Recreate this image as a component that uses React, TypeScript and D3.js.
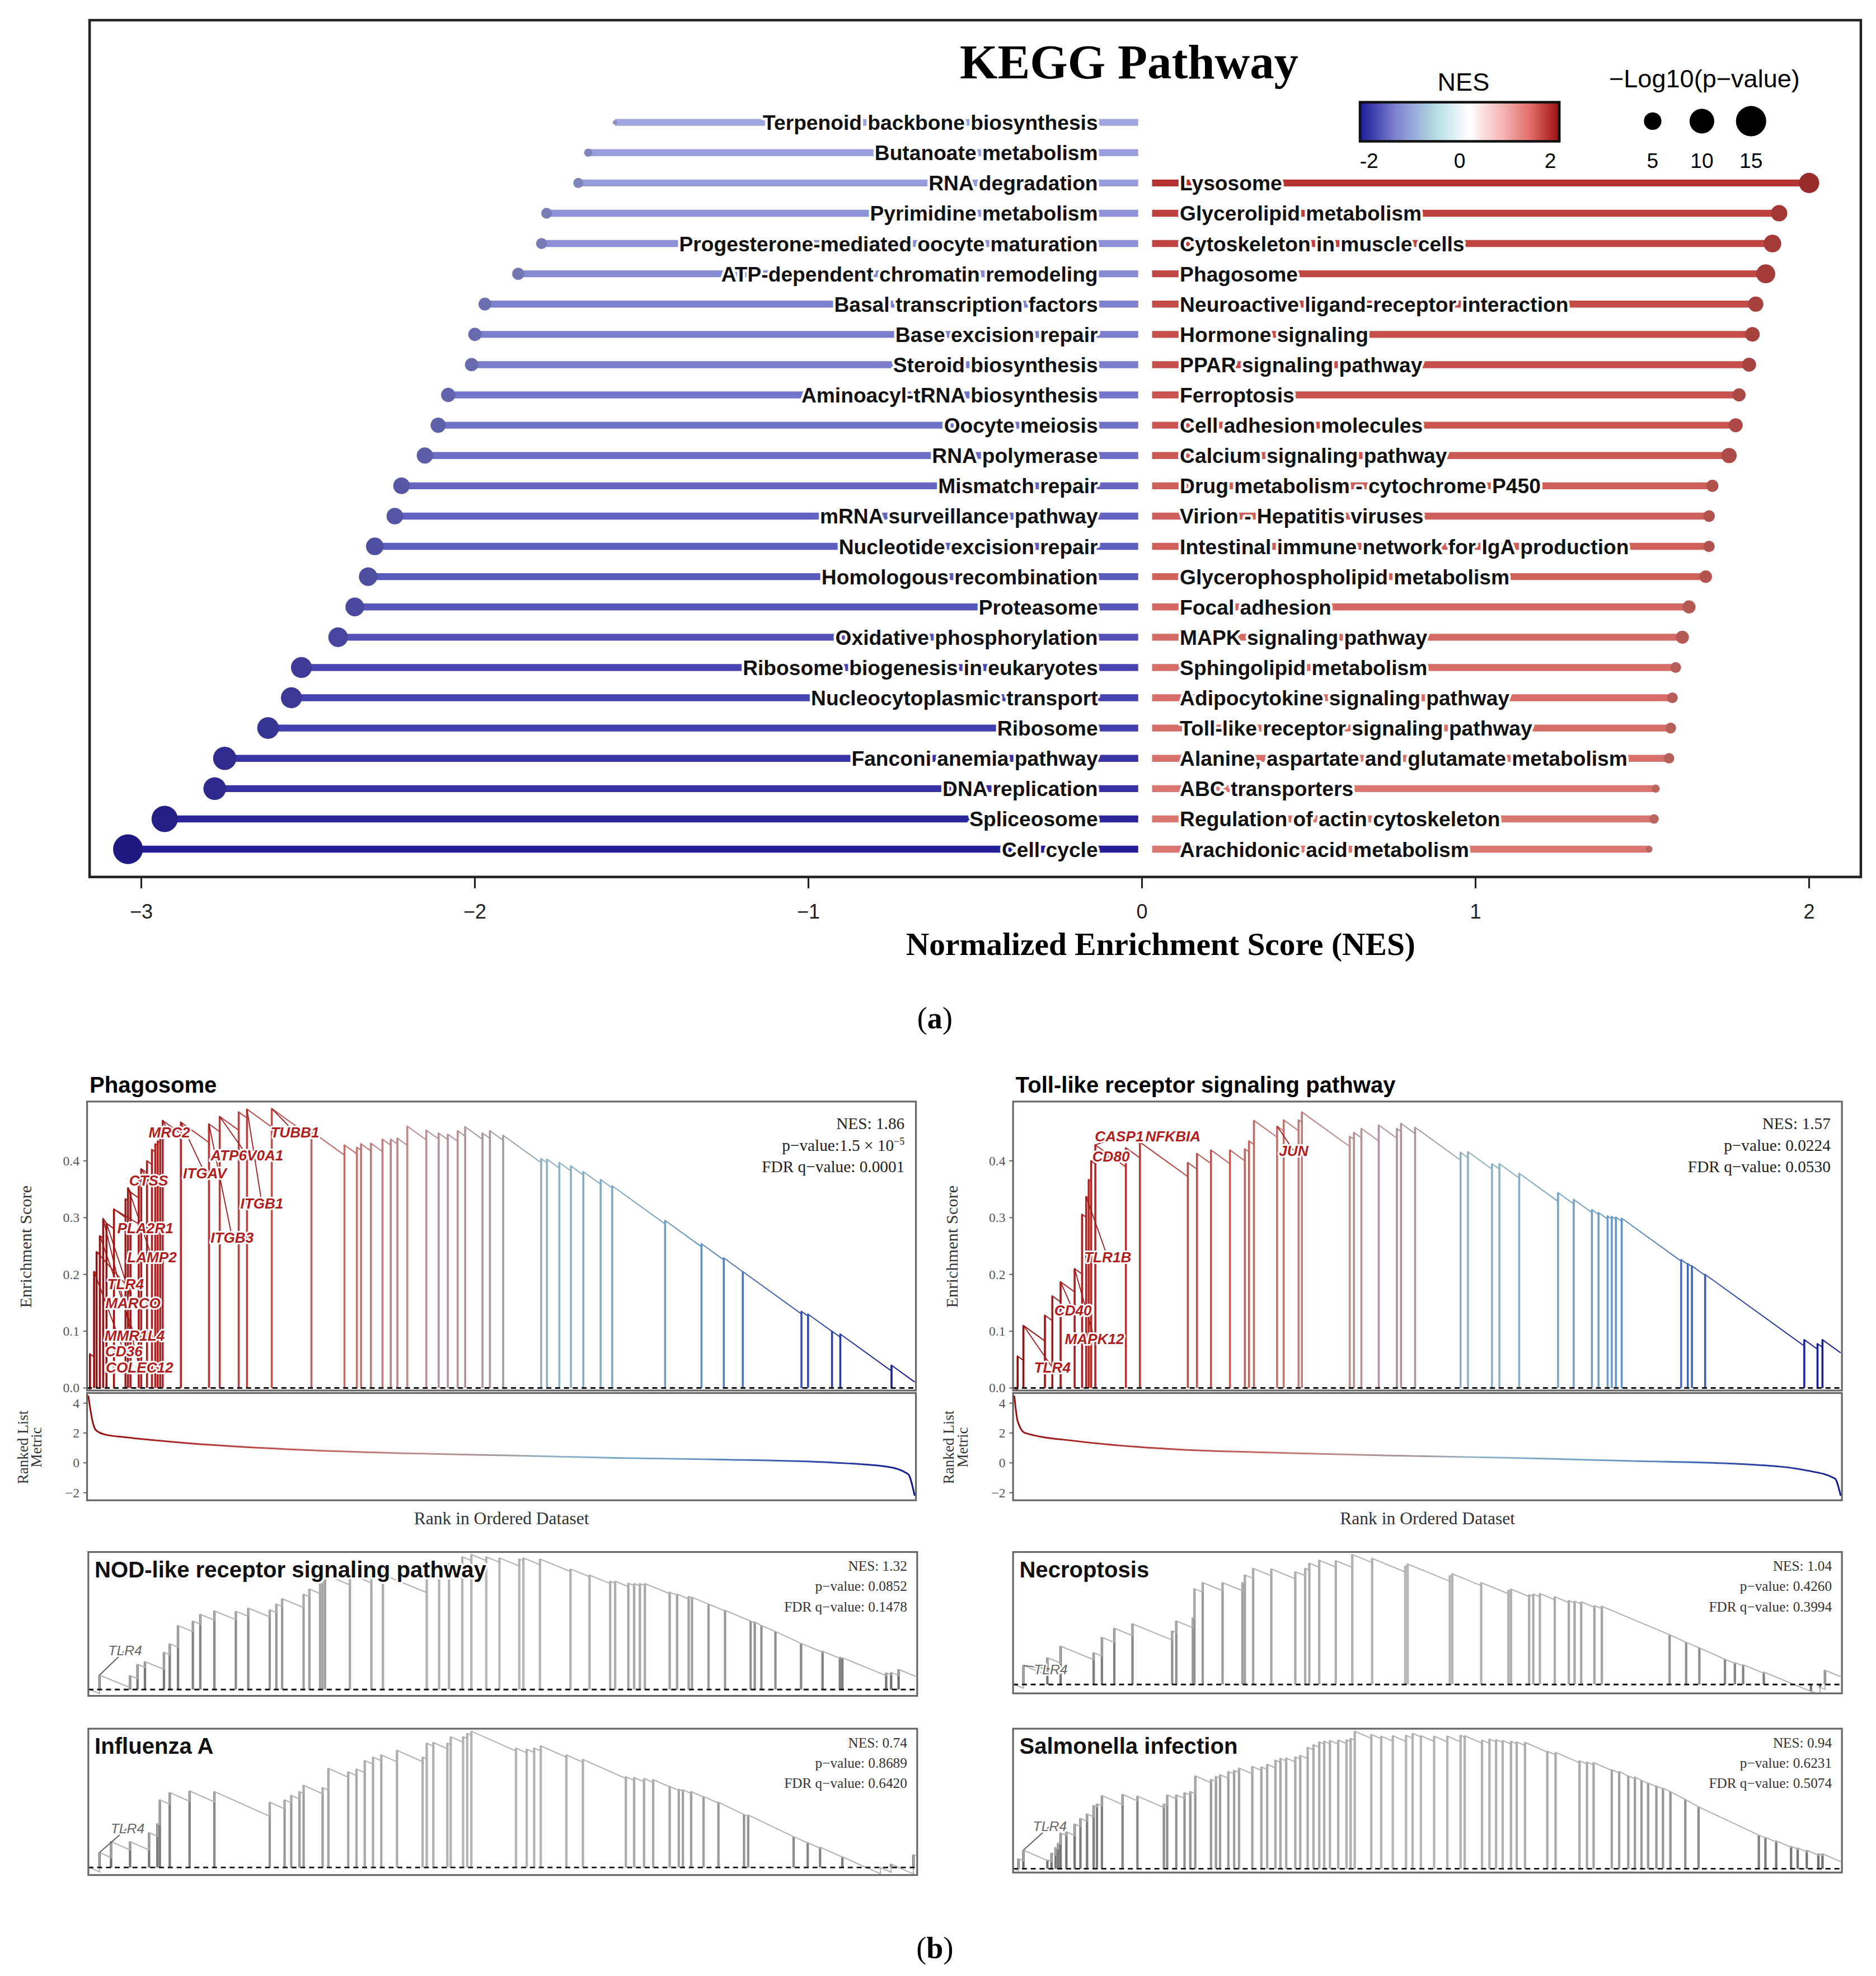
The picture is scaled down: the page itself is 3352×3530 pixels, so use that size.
import React from 'react';
import * as d3 from 'd3';

const VW = 1487;
const VH = 1566;
const SANS = "'Liberation Sans', Arial, sans-serif";
const SERIF = "'Liberation Serif', 'Times New Roman', serif";

// ---------- (a) KEGG pathway lollipop ----------
const downTerms = [
  'Terpenoid backbone biosynthesis', 'Butanoate metabolism', 'RNA degradation', 'Pyrimidine metabolism',
  'Progesterone-mediated oocyte maturation', 'ATP-dependent chromatin remodeling', 'Basal transcription factors',
  'Base excision repair', 'Steroid biosynthesis', 'Aminoacyl-tRNA biosynthesis', 'Oocyte meiosis', 'RNA polymerase',
  'Mismatch repair', 'mRNA surveillance pathway', 'Nucleotide excision repair', 'Homologous recombination',
  'Proteasome', 'Oxidative phosphorylation', 'Ribosome biogenesis in eukaryotes', 'Nucleocytoplasmic transport',
  'Ribosome', 'Fanconi anemia pathway', 'DNA replication', 'Spliceosome', 'Cell cycle',
];
const downNES = [-1.58, -1.66, -1.69, -1.785, -1.8, -1.87, -1.97, -2.0, -2.01, -2.08, -2.11, -2.15, -2.22, -2.24,
  -2.3, -2.32, -2.36, -2.41, -2.52, -2.55, -2.62, -2.75, -2.78, -2.93, -3.04];
const downLogP = [0.3, 1.1, 1.7, 1.9, 2.0, 2.4, 2.7, 2.9, 2.9, 3.3, 3.8, 4.3, 4.5, 4.5, 5.1, 5.6, 5.7, 6.3, 7.2,
  7.2, 7.7, 8.8, 8.4, 11.3, 14.5];

const upTerms = [
  'Lysosome', 'Glycerolipid metabolism', 'Cytoskeleton in muscle cells', 'Phagosome',
  'Neuroactive ligand-receptor interaction', 'Hormone signaling', 'PPAR signaling pathway', 'Ferroptosis',
  'Cell adhesion molecules', 'Calcium signaling pathway', 'Drug metabolism - cytochrome P450',
  'Virion - Hepatitis viruses', 'Intestinal immune network for IgA production', 'Glycerophospholipid metabolism',
  'Focal adhesion', 'MAPK signaling pathway', 'Sphingolipid metabolism', 'Adipocytokine signaling pathway',
  'Toll-like receptor signaling pathway', 'Alanine, aspartate and glutamate metabolism', 'ABC transporters',
  'Regulation of actin cytoskeleton', 'Arachidonic acid metabolism',
];
const upNES = [2.0, 1.91, 1.89, 1.87, 1.84, 1.83, 1.82, 1.79, 1.78, 1.76, 1.71, 1.7, 1.7, 1.69, 1.64, 1.62, 1.6,
  1.59, 1.585, 1.58, 1.54, 1.535, 1.52];
const upLogP = [6.7, 4.4, 5.1, 5.9, 3.8, 3.5, 3.2, 2.8, 3.2, 3.8, 2.4, 2.2, 2.1, 2.6, 2.8, 2.8, 1.9, 1.9, 1.9, 1.8,
  1.1, 1.5, 0.8];

const nesTicks = [-3, -2, -1, 0, 1, 2];
const colorLegendTicks = [-2, 0, 2];
const sizeLegendValues = [5, 10, 15];

// ---------- (b) GSEA running enrichment ----------
// hit positions as fraction of the ranked list, ES at each hit
const phagoHits = [0.002, 0.007, 0.01, 0.014, 0.018, 0.022, 0.031, 0.045, 0.048, 0.051, 0.061, 0.064, 0.071, 0.077,
  0.081, 0.084, 0.087, 0.09, 0.112, 0.146, 0.159, 0.182, 0.192, 0.222, 0.27, 0.31, 0.325, 0.33, 0.342, 0.356, 0.366,
  0.374, 0.386, 0.409, 0.424, 0.435, 0.447, 0.456, 0.477, 0.486, 0.502, 0.548, 0.555, 0.57, 0.584, 0.599, 0.62,
  0.634, 0.698, 0.742, 0.769, 0.792, 0.863, 0.871, 0.9, 0.91, 0.972];
const phagoES = [0.06, 0.205, 0.24, 0.268, 0.298, 0.29, 0.315, 0.333, 0.353, 0.345, 0.371, 0.386, 0.4, 0.42, 0.43,
  0.435, 0.445, 0.471, 0.468, 0.465, 0.478, 0.486, 0.491, 0.492, 0.452, 0.428, 0.424, 0.43, 0.431, 0.438, 0.438,
  0.44, 0.461, 0.454, 0.449, 0.447, 0.453, 0.46, 0.449, 0.453, 0.445, 0.404, 0.403, 0.397, 0.391, 0.381, 0.367,
  0.356, 0.295, 0.254, 0.229, 0.205, 0.135, 0.13, 0.1, 0.095, 0.04];
const phagoMetricPos = [0, 0.005, 0.009, 0.02, 0.048, 0.113, 0.245, 0.376, 0.507, 0.638, 0.769, 0.9, 0.966, 0.992, 1];
const phagoMetric = [4.5, 2.8, 2.2, 1.9, 1.7, 1.35, 0.9, 0.65, 0.5, 0.33, 0.22, 0.02, -0.25, -0.75, -2.2];
const phagoLabels = [
  { gene: 'MRC2', hit: 17, lx: 0.098, ly: 0.45 },
  { gene: 'TUBB1', hit: 23, lx: 0.25, ly: 0.45 },
  { gene: 'ATP6V0A1', hit: 20, lx: 0.192, ly: 0.41 },
  { gene: 'ITGAV', hit: 18, lx: 0.141, ly: 0.378 },
  { gene: 'CTSS', hit: 11, lx: 0.073, ly: 0.365 },
  { gene: 'ITGB1', hit: 22, lx: 0.21, ly: 0.325 },
  { gene: 'PLA2R1', hit: 6, lx: 0.069, ly: 0.282 },
  { gene: 'ITGB3', hit: 19, lx: 0.174, ly: 0.265 },
  { gene: 'LAMP2', hit: 8, lx: 0.077, ly: 0.23 },
  { gene: 'TLR4', hit: 2, lx: 0.045, ly: 0.183 },
  { gene: 'MARCO', hit: 5, lx: 0.054, ly: 0.149 },
  { gene: 'MMR1L4', hit: 3, lx: 0.056, ly: 0.092 },
  { gene: 'CD36', hit: 1, lx: 0.043, ly: 0.065 },
  { gene: 'COLEC12', hit: 4, lx: 0.062, ly: 0.036 },
];

const tollHits = [0.004, 0.011, 0.037, 0.046, 0.056, 0.073, 0.082, 0.087, 0.09, 0.093, 0.098, 0.135, 0.152, 0.21,
  0.221, 0.238, 0.261, 0.279, 0.284, 0.29, 0.318, 0.326, 0.344, 0.348, 0.406, 0.411, 0.42, 0.441, 0.463, 0.468,
  0.485, 0.54, 0.549, 0.578, 0.587, 0.611, 0.658, 0.677, 0.699, 0.707, 0.718, 0.723, 0.728, 0.735, 0.807, 0.815,
  0.82, 0.836, 0.956, 0.972, 0.978];
const tollES = [0.056, 0.11, 0.128, 0.162, 0.187, 0.21, 0.306, 0.337, 0.367, 0.4, 0.428, 0.423, 0.433, 0.397, 0.413,
  0.419, 0.419, 0.421, 0.435, 0.471, 0.461, 0.472, 0.472, 0.486, 0.443, 0.45, 0.457, 0.463, 0.457, 0.466, 0.459,
  0.415, 0.416, 0.395, 0.395, 0.378, 0.344, 0.332, 0.314, 0.309, 0.303, 0.302, 0.301, 0.299, 0.226, 0.219, 0.215,
  0.2, 0.085, 0.078, 0.085];
const tollMetricPos = [0, 0.004, 0.013, 0.076, 0.182, 0.323, 0.464, 0.605, 0.746, 0.887, 0.958, 0.993, 1];
const tollMetric = [4.5, 2.8, 2.0, 1.45, 0.95, 0.67, 0.48, 0.33, 0.13, -0.1, -0.5, -1.05, -2.2];
const tollLabels = [
  { gene: 'CASP1', hit: 10, lx: 0.127, ly: 0.443 },
  { gene: 'NFKBIA', hit: 12, lx: 0.192, ly: 0.443 },
  { gene: 'CD80', hit: 9, lx: 0.117, ly: 0.408 },
  { gene: 'JUN', hit: 20, lx: 0.338, ly: 0.418 },
  { gene: 'TLR1B', hit: 7, lx: 0.113, ly: 0.23 },
  { gene: 'CD40', hit: 4, lx: 0.071, ly: 0.137 },
  { gene: 'MAPK12', hit: 5, lx: 0.097, ly: 0.086 },
  { gene: 'TLR4', hit: 1, lx: 0.046, ly: 0.036 },
];

// small panels: ES as fraction of each panel's maximum
const nodHits = [0.012, 0.049, 0.058, 0.067, 0.09, 0.097, 0.107, 0.125, 0.134, 0.151, 0.177, 0.192, 0.218, 0.226,
  0.233, 0.259, 0.266, 0.279, 0.282, 0.285, 0.315, 0.341, 0.355, 0.408, 0.423, 0.435, 0.451, 0.462, 0.48, 0.496,
  0.52, 0.525, 0.545, 0.582, 0.605, 0.63, 0.636, 0.652, 0.659, 0.666, 0.672, 0.702, 0.711, 0.725, 0.729, 0.749,
  0.769, 0.8, 0.805, 0.813, 0.83, 0.861, 0.887, 0.908, 0.911, 0.964, 0.97, 0.979];
const nodES = [0.107, 0.104, 0.187, 0.207, 0.276, 0.339, 0.474, 0.507, 0.557, 0.583, 0.58, 0.603, 0.59, 0.633, 0.673,
  0.706, 0.744, 0.785, 0.818, 0.851, 0.855, 0.86, 0.851, 0.868, 0.926, 0.934, 0.983, 1.0, 0.983, 0.975, 0.967,
  0.975, 0.967, 0.893, 0.848, 0.802, 0.802, 0.788, 0.785, 0.785, 0.785, 0.722, 0.706, 0.689, 0.683, 0.633, 0.587,
  0.507, 0.501, 0.474, 0.43, 0.342, 0.284, 0.24, 0.236, 0.124, 0.127, 0.149];

const fluHits = [0.012, 0.026, 0.049, 0.072, 0.082, 0.085, 0.097, 0.121, 0.151, 0.218, 0.236, 0.244, 0.254, 0.259,
  0.282, 0.289, 0.313, 0.323, 0.333, 0.343, 0.353, 0.372, 0.403, 0.408, 0.416, 0.433, 0.437, 0.452, 0.457, 0.462,
  0.516, 0.529, 0.538, 0.546, 0.577, 0.597, 0.649, 0.659, 0.671, 0.682, 0.702, 0.713, 0.718, 0.728, 0.743, 0.761,
  0.792, 0.797, 0.852, 0.869, 0.884, 0.911, 0.957, 0.97, 0.997];
const fluES = [0.11, 0.19, 0.19, 0.256, 0.322, 0.496, 0.55, 0.562, 0.557, 0.479, 0.496, 0.529, 0.557, 0.603, 0.587,
  0.727, 0.702, 0.722, 0.785, 0.81, 0.826, 0.86, 0.81, 0.912, 0.917, 0.912, 0.959, 0.959, 0.983, 1.0, 0.876, 0.868,
  0.876, 0.893, 0.826, 0.793, 0.666, 0.661, 0.653, 0.645, 0.595, 0.574, 0.57, 0.557, 0.521, 0.479, 0.388, 0.385,
  0.226, 0.182, 0.149, 0.078, 0.0, 0.025, 0.094];

const necroHits = [0.011, 0.04, 0.056, 0.096, 0.106, 0.121, 0.143, 0.191, 0.196, 0.216, 0.218, 0.228, 0.252, 0.276,
  0.279, 0.289, 0.311, 0.34, 0.352, 0.357, 0.369, 0.389, 0.409, 0.433, 0.473, 0.476, 0.527, 0.53, 0.565, 0.598,
  0.601, 0.623, 0.628, 0.636, 0.654, 0.671, 0.678, 0.686, 0.702, 0.711, 0.793, 0.813, 0.829, 0.86, 0.872, 0.882,
  0.907, 0.964, 0.975, 0.981];
const necroES = [0.147, 0.207, 0.295, 0.245, 0.363, 0.433, 0.467, 0.413, 0.489, 0.514, 0.737, 0.784, 0.784, 0.784,
  0.843, 0.894, 0.889, 0.868, 0.894, 0.933, 0.956, 0.953, 1.0, 0.97, 0.911, 0.927, 0.838, 0.852, 0.784, 0.725,
  0.734, 0.691, 0.696, 0.7, 0.675, 0.646, 0.641, 0.636, 0.607, 0.602, 0.383, 0.325, 0.282, 0.194, 0.169, 0.152,
  0.096, -0.05, -0.022, 0.11];

const salmHits = [0.005, 0.011, 0.04, 0.045, 0.05, 0.053, 0.056, 0.063, 0.073, 0.08, 0.088, 0.096, 0.1, 0.106, 0.131,
  0.149, 0.181, 0.185, 0.196, 0.206, 0.213, 0.219, 0.238, 0.244, 0.249, 0.259, 0.266, 0.272, 0.288, 0.299, 0.306,
  0.316, 0.322, 0.329, 0.34, 0.346, 0.355, 0.362, 0.369, 0.375, 0.382, 0.392, 0.402, 0.407, 0.412, 0.432, 0.444,
  0.458, 0.474, 0.482, 0.492, 0.508, 0.524, 0.54, 0.545, 0.566, 0.575, 0.583, 0.591, 0.601, 0.608, 0.618, 0.645,
  0.655, 0.684, 0.693, 0.701, 0.723, 0.732, 0.743, 0.751, 0.759, 0.767, 0.777, 0.785, 0.794, 0.812, 0.828, 0.901,
  0.909, 0.922, 0.94, 0.948, 0.959, 0.973, 0.978];
const salmES = [0.073, 0.135, 0.065, 0.114, 0.154, 0.187, 0.26, 0.268, 0.325, 0.366, 0.398, 0.46, 0.472, 0.532,
  0.541, 0.528, 0.472, 0.537, 0.537, 0.553, 0.561, 0.675, 0.65, 0.672, 0.683, 0.707, 0.715, 0.732, 0.743, 0.74,
  0.759, 0.789, 0.802, 0.805, 0.813, 0.824, 0.883, 0.902, 0.922, 0.927, 0.932, 0.935, 0.938, 0.948, 1.0, 0.976,
  0.964, 0.967, 0.97, 0.984, 0.967, 0.964, 0.964, 0.97, 0.967, 0.935, 0.943, 0.938, 0.932, 0.927, 0.922, 0.919,
  0.854, 0.846, 0.785, 0.776, 0.772, 0.72, 0.707, 0.675, 0.667, 0.642, 0.623, 0.602, 0.585, 0.561, 0.504, 0.45,
  0.244, 0.228, 0.203, 0.163, 0.151, 0.135, 0.109, 0.109];

const esTicks = [0, 0.1, 0.2, 0.3, 0.4];
const metricTicks = [-2, 0, 2, 4];

// colour ramp along the ranked list (red -> grey -> blue)
const POS_STOPS = [0, 0.1, 0.3, 0.4, 0.48, 0.56, 0.72, 0.84, 1];
const POS_COLORS = ['#960c0c', '#b02828', '#c46a66', '#bc9090', '#a89498', '#90b4c6', '#6a9cc6', '#3c5cb2', '#101590'];

const halo = (w: number): React.CSSProperties => ({
  paintOrder: 'stroke', stroke: '#fff', strokeWidth: w, strokeLinejoin: 'round',
} as React.CSSProperties);

const fmtMinus = (v: number) => (v < 0 ? `\u2212${-v}` : `${v}`);

// running-sum outline: falls between hits, jumps up at each hit
function runningPath(hits: number[], es: number[], slope: number,
  x: d3.ScaleLinear<number, number>, y: d3.ScaleLinear<number, number>) {
  const pts: [number, number][] = [[0, 0]];
  let px = 0;
  let pv = 0;
  hits.forEach((h, i) => {
    const low = Math.min(pv - slope * (h - px), es[i]);
    pts.push([h, low], [h, es[i]]);
    px = h;
    pv = es[i];
  });
  pts.push([1, pv - slope * (1 - px)]);
  return d3.line<[number, number]>().x(d => x(d[0])).y(d => y(d[1]))(pts) || '';
}

function KeggPanel() {
  const x = d3.scaleLinear().domain([-3, 2]).range([112, 1434]);
  const row = d3.scalePoint<number>().domain(d3.range(downTerms.length)).range([97, 673]);
  const r = d3.scaleSqrt().domain([0, 15]).range([0, 12]);
  const nesColor = d3.scaleLinear<string>()
    .domain([-3.05, -2.5, -2.0, -1.55, 1.5, 1.75, 2.0])
    .range(['#221d96', '#4a47b3', '#7a7ecd', '#a2a9df', '#dc7a74', '#cd5a55', '#b53232'])
    .clamp(true);
  const dotColor = (v: number) => d3.color(nesColor(v))!.darker(0.45).formatHex();
  const x0 = x(0);
  const upOffset = downTerms.length - upTerms.length;
  const cbar = d3.scaleLinear().domain([-2.2, 2.2]).range([1078, 1236]);
  const sizeX = d3.scalePoint<number>().domain(sizeLegendValues).range([1310, 1388]);

  return (
    <g>
      <defs>
        <linearGradient id="nesbar" x1="0" x2="1" y1="0" y2="0">
          <stop offset="0" stopColor="#1a1a9a" />
          <stop offset="0.18" stopColor="#7f82cf" />
          <stop offset="0.38" stopColor="#b5dde4" />
          <stop offset="0.55" stopColor="#ffffff" />
          <stop offset="0.72" stopColor="#f4b3b1" />
          <stop offset="0.86" stopColor="#e06a66" />
          <stop offset="1" stopColor="#9c0f0f" />
        </linearGradient>
      </defs>
      <rect x={71} y={16} width={1404} height={679} fill="#fff" stroke="#222" strokeWidth={2} />
      <text x={895} y={62} textAnchor="middle" fontFamily={SERIF} fontWeight="bold" fontSize={38.5}>KEGG Pathway</text>

      {downTerms.map((t, i) => {
        const y = row(i)!;
        return (
          <g key={t}>
            <line x1={x(downNES[i])} x2={x0 - 3} y1={y} y2={y} stroke={nesColor(downNES[i])} strokeWidth={5.5} />
            <circle cx={x(downNES[i])} cy={y} r={r(downLogP[i])} fill={dotColor(downNES[i])} />
            <text x={x0 - 35} y={y + 6} textAnchor="end" fontFamily={SANS} fontWeight="bold" fontSize={16.5}
              fill="#111" style={halo(4)}>{t}</text>
          </g>
        );
      })}
      {upTerms.map((t, i) => {
        const y = row(i + upOffset)!;
        return (
          <g key={t}>
            <line x1={x0 + 8} x2={x(upNES[i])} y1={y} y2={y} stroke={nesColor(upNES[i])} strokeWidth={5.5} />
            <circle cx={x(upNES[i])} cy={y} r={r(upLogP[i])} fill={dotColor(upNES[i])} />
            <text x={x0 + 30} y={y + 6} textAnchor="start" fontFamily={SANS} fontWeight="bold" fontSize={16.5}
              fill="#111" style={halo(4)}>{t}</text>
          </g>
        );
      })}

      {/* x axis */}
      {nesTicks.map(t => (
        <g key={t}>
          <line x1={x(t)} x2={x(t)} y1={695} y2={704} stroke="#222" strokeWidth={1.4} />
          <text x={x(t)} y={728} textAnchor="middle" fontFamily={SANS} fontSize={16} fill="#222">{fmtMinus(t)}</text>
        </g>
      ))}
      <text x={920} y={757} textAnchor="middle" fontFamily={SERIF} fontWeight="bold" fontSize={25.5}>
        Normalized Enrichment Score (NES)
      </text>

      {/* colour legend */}
      <text x={1160} y={72} textAnchor="middle" fontFamily={SANS} fontSize={20}>NES</text>
      <rect x={1078} y={81} width={158} height={31} fill="url(#nesbar)" stroke="#111" strokeWidth={2} />
      {colorLegendTicks.map(t => (
        <text key={t} x={cbar(t)} y={133} textAnchor="middle" fontFamily={SANS} fontSize={16.5}>{t}</text>
      ))}

      {/* size legend */}
      <text x={1351} y={69} textAnchor="middle" fontFamily={SANS} fontSize={20}>{'\u2212Log10(p\u2212value)'}</text>
      {sizeLegendValues.map(v => (
        <g key={v}>
          <circle cx={sizeX(v)} cy={96} r={r(v)} fill="#000" />
          <text x={sizeX(v)} y={133} textAnchor="middle" fontFamily={SANS} fontSize={16.5}>{v}</text>
        </g>
      ))}
    </g>
  );
}

type GeneLabel = { gene: string; hit: number; lx: number; ly: number };

function GseaMain(props: {
  id: string; title: string; x0: number; x1: number; hits: number[]; es: number[]; slope: number;
  metricPos: number[]; metric: number[]; labels: GeneLabel[]; stats: React.ReactNode[];
}) {
  const { id, title, x0, x1, hits, es, slope, metricPos, metric, labels, stats } = props;
  const x = d3.scaleLinear().domain([0, 1]).range([x0 + 1, x1 - 1]);
  const y = d3.scaleLinear().domain([0, 0.5]).range([1100, 875]);
  const ym = d3.scaleLinear().domain([-2, 4]).range([1183, 1112]);
  const color = d3.scaleLinear<string>().domain(POS_STOPS).range(POS_COLORS);
  const metricLine = d3.line<number>().x((_, i) => x(metricPos[i])).y(d => ym(d)).curve(d3.curveMonotoneX);
  const cx = (x0 + x1) / 2;

  return (
    <g>
      <defs>
        <linearGradient id={id} gradientUnits="userSpaceOnUse" x1={x0} x2={x1} y1={0} y2={0}>
          {POS_STOPS.map((s, i) => <stop key={i} offset={s} stopColor={POS_COLORS[i]} />)}
        </linearGradient>
        <clipPath id={`${id}-clip`}>
          <rect x={x0} y={873} width={x1 - x0} height={229} />
        </clipPath>
      </defs>
      <text x={x0 + 2} y={866} fontFamily={SANS} fontWeight="bold" fontSize={17.8}>{title}</text>

      {/* enrichment score panel */}
      <g clipPath={`url(#${id}-clip)`}>
        {hits.map((h, i) => (
          <line key={i} x1={x(h)} x2={x(h)} y1={y(0)} y2={y(es[i])} stroke={color(h)} strokeWidth={1.6} />
        ))}
        <path d={runningPath(hits, es, slope, x, y)} fill="none" stroke={`url(#${id})`} strokeWidth={0.9} />
        <line x1={x0} x2={x1} y1={y(0)} y2={y(0)} stroke="#111" strokeWidth={1.3} strokeDasharray="4 3" />
      </g>
      {labels.map(l => (
        <line key={`l-${l.gene}`} x1={x(l.lx)} y1={y(l.ly)} x2={x(hits[l.hit])} y2={y(es[l.hit])}
          stroke="#a01818" strokeWidth={0.8} />
      ))}
      {labels.map(l => (
        <text key={l.gene} x={x(l.lx)} y={y(l.ly) + 4} textAnchor="middle" fontFamily={SANS} fontWeight="bold"
          fontStyle="italic" fontSize={11.6} fill="#b01e1e" style={halo(2.6)}>{l.gene}</text>
      ))}
      <rect x={x0} y={873} width={x1 - x0} height={229} fill="none" stroke="#666" strokeWidth={1.4} />
      {esTicks.map(t => (
        <g key={t}>
          <line x1={x0 - 3} x2={x0} y1={y(t)} y2={y(t)} stroke="#555" strokeWidth={0.8} />
          <text x={x0 - 6} y={y(t) + 3.5} textAnchor="end" fontFamily={SERIF} fontSize={10.5} fill="#555">
            {d3.format('.1f')(t)}
          </text>
        </g>
      ))}
      <text transform={`translate(${x0 - 44},988) rotate(-90)`} textAnchor="middle" fontFamily={SERIF}
        fontSize={13.5} fill="#333">Enrichment Score</text>
      {stats.map((s, i) => (
        <text key={i} x={x1 - 9} y={895 + i * 17} textAnchor="end" fontFamily={SERIF} fontSize={13} fill="#222">
          {s}
        </text>
      ))}

      {/* ranked list metric panel */}
      <rect x={x0} y={1104} width={x1 - x0} height={85} fill="none" stroke="#666" strokeWidth={1.4} />
      <path d={metricLine(metric) || ''} fill="none" stroke={`url(#${id})`} strokeWidth={1.3} />
      {metricTicks.map(t => (
        <g key={t}>
          <line x1={x0 - 3} x2={x0} y1={ym(t)} y2={ym(t)} stroke="#555" strokeWidth={0.8} />
          <text x={x0 - 6} y={ym(t) + 3.5} textAnchor="end" fontFamily={SERIF} fontSize={10.5} fill="#555">
            {fmtMinus(t)}
          </text>
        </g>
      ))}
      <text transform={`translate(${x0 - 47},1147) rotate(-90)`} textAnchor="middle" fontFamily={SERIF}
        fontSize={12} fill="#333">Ranked List</text>
      <text transform={`translate(${x0 - 36},1147) rotate(-90)`} textAnchor="middle" fontFamily={SERIF}
        fontSize={12} fill="#333">Metric</text>
      <text x={cx} y={1208} textAnchor="middle" fontFamily={SERIF} fontSize={14} fill="#333">
        Rank in Ordered Dataset
      </text>
    </g>
  );
}

function GseaMini(props: {
  id: string; title: string; x0: number; x1: number; top: number; bottom: number; zeroY: number; peakY: number;
  hits: number[]; es: number[]; slope: number; stats: string[]; tlr: GeneLabel;
}) {
  const { id, title, x0, x1, top, bottom, zeroY, peakY, hits, es, slope, stats, tlr } = props;
  const x = d3.scaleLinear().domain([0, 1]).range([x0 + 1, x1 - 1]);
  const y = d3.scaleLinear().domain([0, 1]).range([zeroY, peakY]);
  const grey = d3.scaleLinear<string>()
    .domain([0, 0.15, 0.3, 0.5, 0.7, 0.85, 1])
    .range(['#6a6a6a', '#888888', '#a6a6a6', '#b8b8b8', '#a6a6a6', '#8a8a8a', '#6a6a6a']);
  return (
    <g>
      <defs>
        <clipPath id={`${id}-clip`}>
          <rect x={x0} y={top} width={x1 - x0} height={bottom - top} />
        </clipPath>
      </defs>
      <g clipPath={`url(#${id}-clip)`}>
        {hits.map((h, i) => (
          <line key={i} x1={x(h)} x2={x(h)} y1={y(0)} y2={y(es[i])} stroke={grey(h)} strokeWidth={1.9} />
        ))}
        <path d={runningPath(hits, es, slope, x, y)} fill="none" stroke="#b0b0b0" strokeWidth={0.9} />
        <line x1={x0} x2={x1} y1={y(0)} y2={y(0)} stroke="#111" strokeWidth={1.3} strokeDasharray="4 3" />
        <line x1={x(tlr.lx)} y1={y(tlr.ly)} x2={x(hits[tlr.hit])} y2={y(es[tlr.hit])} stroke="#555"
          strokeWidth={0.8} />
        <text x={x(tlr.lx)} y={y(tlr.ly) + 4} textAnchor="middle" fontFamily={SANS} fontStyle="italic"
          fontSize={11} fill="#666" style={halo(2.4)}>{tlr.gene}</text>
      </g>
      <rect x={x0} y={top} width={x1 - x0} height={bottom - top} fill="none" stroke="#666" strokeWidth={1.4} />
      <text x={x0 + 5} y={top + 20} fontFamily={SANS} fontWeight="bold" fontSize={17.8} fill="#111"
        style={halo(3)}>{title}</text>
      {stats.map((s, i) => (
        <text key={i} x={x1 - 8} y={top + 15 + i * 16} textAnchor="end" fontFamily={SERIF} fontSize={11.2}
          fill="#333">{s}</text>
      ))}
    </g>
  );
}

function Caption({ y, letter }: { y: number; letter: string }) {
  return (
    <text x={741} y={y} textAnchor="middle" fontFamily={SERIF} fontSize={24}>
      (<tspan fontWeight="bold">{letter}</tspan>)
    </text>
  );
}

export default function App() {
  return (
    <div style={{ position: 'absolute', left: 0, top: 0 }}>
      <svg width={3352} height={3530} viewBox={`0 0 ${VW} ${VH}`} style={{ display: 'block', background: '#fff' }}>
        <KeggPanel />
        <Caption y={815} letter="a" />

        <GseaMain id="phago" title="Phagosome" x0={69} x1={726} hits={phagoHits} es={phagoES} slope={1.05}
          metricPos={phagoMetricPos} metric={phagoMetric} labels={phagoLabels}
          stats={[
            'NES: 1.86',
            <>{'p\u2212value:1.5 \u00d7 10'}<tspan dy={-5} fontSize={8}>{'\u22125'}</tspan></>,
            'FDR q\u2212value: 0.0001',
          ]} />
        <GseaMain id="toll" title="Toll-like receptor signaling pathway" x0={803} x1={1460} hits={tollHits}
          es={tollES} slope={1.05} metricPos={tollMetricPos} metric={tollMetric} labels={tollLabels}
          stats={['NES: 1.57', 'p\u2212value: 0.0224', 'FDR q\u2212value: 0.0530']} />

        <GseaMini id="nod" title="NOD-like receptor signaling pathway" x0={70} x1={727} top={1230} bottom={1344}
          zeroY={1339} peakY={1232} hits={nodHits} es={nodES} slope={2.5}
          stats={['NES: 1.32', 'p\u2212value: 0.0852', 'FDR q\u2212value: 0.1478']}
          tlr={{ gene: 'TLR4', hit: 0, lx: 0.043, ly: 0.29 }} />
        <GseaMini id="necro" title="Necroptosis" x0={803} x1={1460} top={1230} bottom={1342}
          zeroY={1335} peakY={1232} hits={necroHits} es={necroES} slope={2.6}
          stats={['NES: 1.04', 'p\u2212value: 0.4260', 'FDR q\u2212value: 0.3994']}
          tlr={{ gene: 'TLR4', hit: 0, lx: 0.044, ly: 0.118 }} />
        <GseaMini id="flu" title="Influenza A" x0={70} x1={727} top={1370} bottom={1486}
          zeroY={1480} peakY={1372} hits={fluHits} es={fluES} slope={2.7}
          stats={['NES: 0.74', 'p\u2212value: 0.8689', 'FDR q\u2212value: 0.6420']}
          tlr={{ gene: 'TLR4', hit: 0, lx: 0.046, ly: 0.29 }} />
        <GseaMini id="salm" title="Salmonella infection" x0={803} x1={1460} top={1370} bottom={1484}
          zeroY={1481} peakY={1372} hits={salmHits} es={salmES} slope={2.6}
          stats={['NES: 0.94', 'p\u2212value: 0.6231', 'FDR q\u2212value: 0.5074']}
          tlr={{ gene: 'TLR4', hit: 1, lx: 0.043, ly: 0.31 }} />

        <Caption y={1552} letter="b" />
      </svg>
    </div>
  );
}
